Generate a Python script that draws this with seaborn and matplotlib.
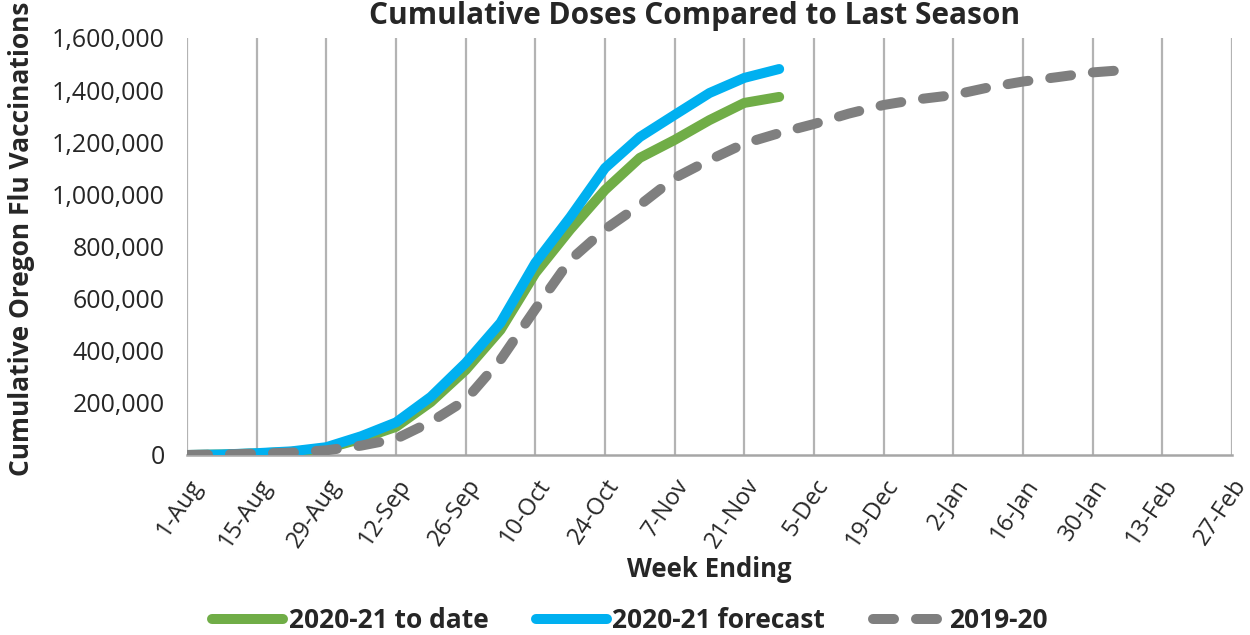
import matplotlib
matplotlib.use("Agg")
import matplotlib.pyplot as plt
import seaborn as sns
import pandas as pd

# Tick labels every two weeks along the x axis
tick_labels = ["1-Aug", "15-Aug", "29-Aug", "12-Sep", "26-Sep", "10-Oct", "24-Oct",
               "7-Nov", "21-Nov", "5-Dec", "19-Dec", "2-Jan", "16-Jan", "30-Jan",
               "13-Feb", "27-Feb"]

# Weekly cumulative doses
to_date_2021 = [0, 2000, 6000, 12000, 25000, 62000, 108000, 203000, 326000, 480000,
                698000, 865000, 1017000, 1140000, 1209000, 1285000, 1351000, 1374000]
forecast_2021 = [0, 2000, 7000, 14000, 30000, 72000, 125000, 223000, 353000, 507000,
                 737000, 912000, 1101000, 1220000, 1305000, 1389000, 1447000, 1481000]
season_1920 = [0, 2000, 5000, 9000, 18000, 36000, 62000, 127000, 211000, 365000,
               560000, 748000, 866000, 959000, 1063000, 1132000, 1195000, 1235000,
               1270000, 1310000, 1343000, 1365000, 1381000, 1410000, 1433000, 1450000,
               1468000, 1478000]

start = pd.Timestamp("2020-08-01")
week_ending = pd.date_range(start, periods=len(season_1920), freq="7D")

df_green = pd.DataFrame({"week": week_ending[:len(to_date_2021)], "doses": to_date_2021})
df_blue = pd.DataFrame({"week": week_ending[:len(forecast_2021)], "doses": forecast_2021})
df_gray = pd.DataFrame({"week": week_ending, "doses": season_1920})

sns.set_theme(style="white")
plt.rcParams["font.family"] = ["Open Sans", "DejaVu Sans"]

fig = plt.figure(figsize=(12.5, 6.35), dpi=100)
ax = fig.add_axes([187 / 1250, 1 - 455 / 635, (1232 - 187) / 1250, (455 - 38) / 635])

lw = 7.2
sns.lineplot(data=df_green, x="week", y="doses", ax=ax, color="#70AD47", linewidth=lw,
             solid_capstyle="round", solid_joinstyle="round", label="2020-21 to date", zorder=3)
sns.lineplot(data=df_blue, x="week", y="doses", ax=ax, color="#00B0F0", linewidth=lw,
             solid_capstyle="round", solid_joinstyle="round", label="2020-21 forecast", zorder=4)
sns.lineplot(data=df_gray, x="week", y="doses", ax=ax, color="#7F7F7F", linewidth=lw,
             linestyle=(0, (2.1, 2.2)), dash_capstyle="round", label="2019-20", zorder=5)

ticks = pd.date_range(start, periods=len(tick_labels), freq="14D")
ax.set_xlim(ticks[0], ticks[-1])
ax.set_ylim(0, 1600000)
ax.set_xticks(ticks)
ax.set_xticklabels(tick_labels, rotation=56, ha="right", rotation_mode="anchor",
                   fontsize=17, color="#262626")
ax.tick_params(axis="x", pad=14, length=0)
ax.set_yticks(range(0, 1600001, 200000))
ax.set_yticklabels([f"{v:,}" for v in range(0, 1600001, 200000)], fontsize=18, color="#262626")
ax.tick_params(axis="y", pad=16, length=0)

ax.grid(axis="x", color="#B3B3B3", linewidth=1.6)
ax.grid(axis="y", visible=False)
for side in ["top", "right", "left"]:
    ax.spines[side].set_visible(False)
ax.spines["bottom"].set_color("#A6A6A6")
ax.spines["bottom"].set_linewidth(1.8)

ax.set_xlabel("Week Ending", fontsize=18.5, fontweight="bold", labelpad=2)
ax.set_ylabel("")
fig.text(22 / 1250, 1 - 239 / 635, "Cumulative Oregon Flu Vaccinations", rotation=90,
         ha="center", va="center", fontsize=19, fontweight="bold")
fig.text(695 / 1250, 1 - 24 / 635, "Cumulative Doses Compared to Last Season",
         ha="center", va="baseline", fontsize=21.5, fontweight="bold")

ax.get_legend().remove()
handles, labels = ax.get_legend_handles_labels()
fig.legend(handles, labels, loc="center", bbox_to_anchor=(630 / 1250, 1 - 621 / 635),
           ncol=3, frameon=False, prop={"size": 19, "weight": "bold"},
           handlelength=2.7, handletextpad=0.2, columnspacing=1.8)

fig.savefig("out.png", dpi=100)
